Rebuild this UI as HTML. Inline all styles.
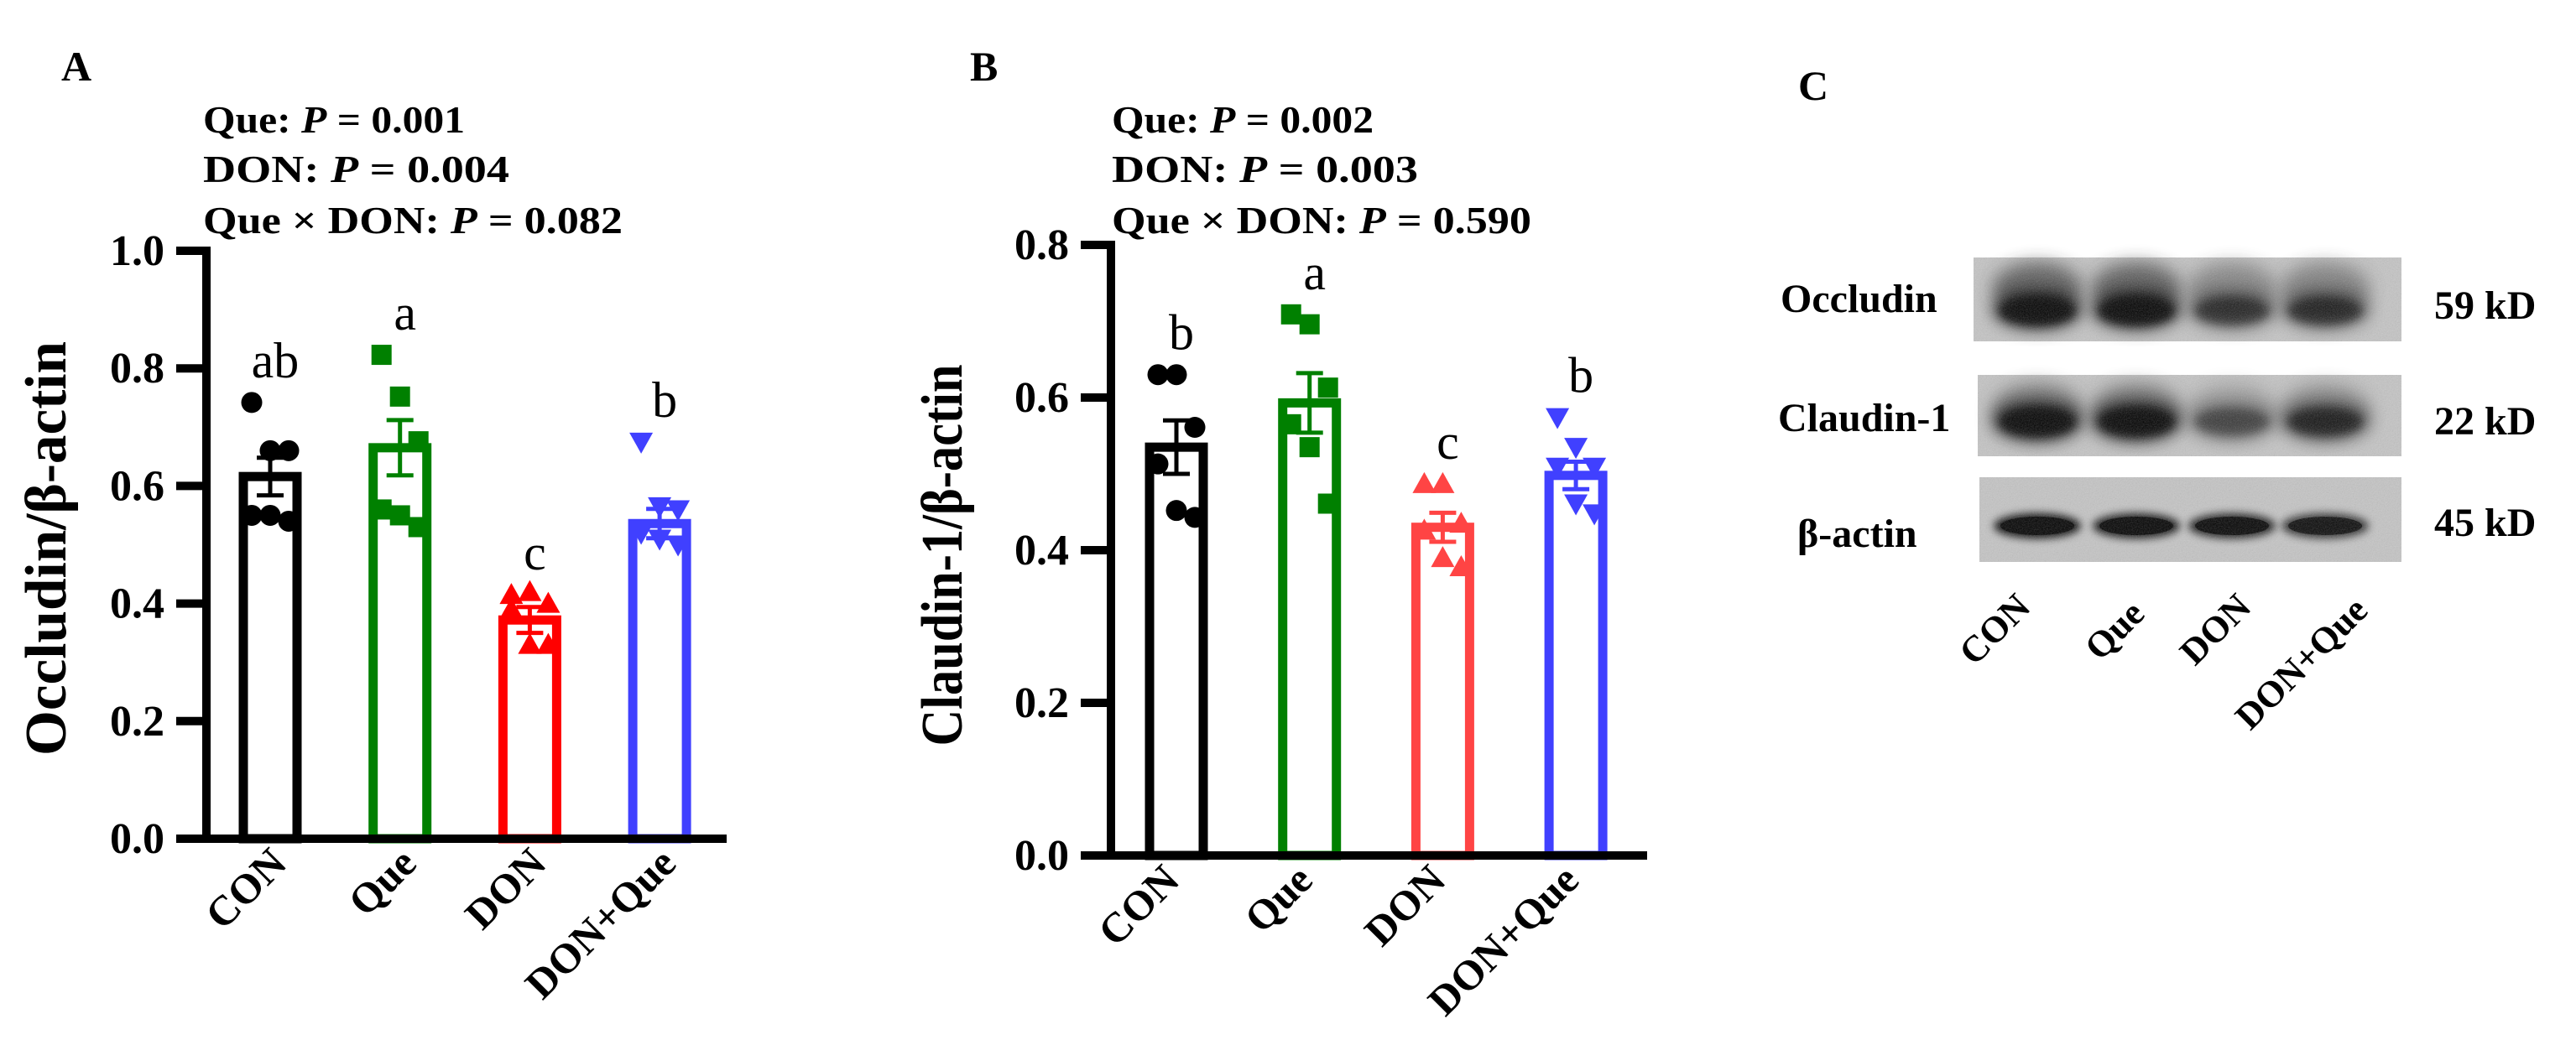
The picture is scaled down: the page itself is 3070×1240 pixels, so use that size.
<!DOCTYPE html>
<html><head><meta charset="utf-8"><style>
html,body{margin:0;padding:0;background:#fff;}
svg{display:block;font-family:"Liberation Serif",serif;}
</style></head><body>
<svg id="fig" width="3070" height="1240" viewBox="0 0 3070 1240" xmlns="http://www.w3.org/2000/svg" font-family="Liberation Serif, serif">
<defs>
<filter id="blur12" x="-50%" y="-50%" width="200%" height="200%"><feGaussianBlur stdDeviation="10"/></filter>
<filter id="blur6" x="-50%" y="-50%" width="200%" height="200%"><feGaussianBlur stdDeviation="5"/></filter>
<filter id="noise"><feTurbulence type="fractalNoise" baseFrequency="0.7" numOctaves="2" result="t"/><feColorMatrix type="saturate" values="0"/><feComponentTransfer><feFuncA type="table" tableValues="0 0.3"/></feComponentTransfer><feComposite in2="SourceGraphic" operator="in"/></filter>
</defs>
<g id="panelA"></g>
<g id="panelB"></g>
<g id="panelC"></g>
</svg>
<script>
const categories = ["CON","Que","DON","DON+Que"];
const occludinMeans = [0.616,0.665,0.372,0.536];
const occludinSem = [0.032,0.047,0.022,0.025];
const occludinPoints = [[0.742,0.66,0.66,0.55,0.55,0.54],[0.823,0.752,0.676,0.56,0.55,0.53],[0.415,0.42,0.40,0.39,0.33,0.33],[0.675,0.565,0.56,0.52,0.51,0.50]];
const occludinLetters = ["ab","a","c","b"];
const occludinTicks = [0,0.2,0.4,0.6,0.8,1.0];
const occludinStats = ["0.001","0.004","0.082"];
const claudinMeans = [0.535,0.593,0.43,0.498];
const claudinSem = [0.035,0.039,0.019,0.018];
const claudinPoints = [[0.63,0.63,0.561,0.513,0.452,0.443],[0.709,0.696,0.613,0.565,0.535,0.461],[0.487,0.487,0.435,0.426,0.39,0.378],[0.574,0.535,0.509,0.509,0.461,0.448]];
const claudinLetters = ["b","a","c","b"];
const claudinTicks = [0,0.2,0.4,0.6,0.8];
const claudinStats = ["0.002","0.003","0.590"];
const blotProteins = ["Occludin","Claudin-1","β-actin"];
const blotSizes = ["59 kD","22 kD","45 kD"];
const blotIntensity = [[1.0,1.0,0.6,0.65],[1.0,1.0,0.45,0.7],[1.0,0.95,0.9,0.8]];

const NS="http://www.w3.org/2000/svg";
function mk(tag,attrs,parent,text){const e=document.createElementNS(NS,tag);for(const k in attrs)e.setAttribute(k,attrs[k]);if(text!==undefined)e.textContent=text;parent.appendChild(e);return e;}
const colorsA=["#000000","#008000","#ff0000","#4040ff"];
const colorsB=["#000000","#008000","#ff4444","#4040ff"];
const jitter=[-22,0,22,-22,0,22];
const statLens=[312,365,500];

function drawChart(g,cfg){
  const y=v=>cfg.y0-(v/cfg.ymax)*(cfg.y0-cfg.ytop);
  const xc=i=>cfg.x0+i*cfg.step;
  let t=mk('text',{x:cfg.letterX,y:96,'font-size':50,'font-weight':'bold'},g,cfg.letter);
  
  
  const statLabels=["Que: ","DON:  ","Que × DON: "];
  const statY=[158,217,278];
  cfg.stats.forEach((s,i)=>{
    const tx=mk('text',{x:cfg.statX,y:statY[i],'font-size':46,'font-weight':'bold',textLength:statLens[i],lengthAdjust:'spacingAndGlyphs'},g);
    
    
    mk('tspan',{},tx,statLabels[i]);
    mk('tspan',{'font-style':'italic'},tx,'P');
    mk('tspan',{},tx,(i===0?' = ':'  = ')+s);
  });
  cfg.means.forEach((m,i)=>{
    const c=cfg.colors[i], cx=xc(i);
    const bar=mk('rect',{x:cx-32,y:y(m),width:64,height:cfg.y0-y(m),fill:'none',stroke:c,'stroke-width':11},g);
    
    
    cfg.points[i].forEach((p,j)=>{
      const px=cx+jitter[j], py=y(p);
      let mkr;
      if(i===0) mkr=mk('circle',{cx:px,cy:py,r:12.5,fill:c},g);
      else if(i===1) mkr=mk('rect',{x:px-12,y:py-12,width:24,height:24,fill:c},g);
      else if(i===2) mkr=mk('polygon',{points:`${px},${py-14} ${px-14},${py+11} ${px+14},${py+11}`,fill:c},g);
      else mkr=mk('polygon',{points:`${px},${py+14} ${px-14},${py-11} ${px+14},${py-11}`,fill:c},g);
      
      
    });
    const eb=mk('g',{stroke:c,'stroke-width':5},g);
    
    
    const hi=y(m+cfg.sem[i]), lo=y(m-cfg.sem[i]);
    mk('line',{x1:cx,x2:cx,y1:hi,y2:lo},eb);
    mk('line',{x1:cx-16,x2:cx+16,y1:hi,y2:hi},eb);
    mk('line',{x1:cx-16,x2:cx+16,y1:lo,y2:lo},eb);
    const lt=mk('text',{x:cx+6,y:y(cfg.points[i][0])-30,'font-size':60,'text-anchor':'middle'},g,cfg.letters[i]);
    
    
    const xl=mk('text',{x:0,y:0,'font-size':50,'font-weight':'bold','text-anchor':'end',transform:`translate(${cx+cfg.labOff},${cfg.y0+32}) rotate(-45)`},g,categories[i]);
    
    
  });
  const ax=mk('g',{stroke:'#000','stroke-width':10},g);
  
  
  mk('line',{x1:cfg.axX,x2:cfg.axX,y1:cfg.ytop-5,y2:cfg.y0+5},ax);
  mk('line',{x1:cfg.axX-36,x2:cfg.xEnd,y1:cfg.y0,y2:cfg.y0},ax);
  cfg.ticks.forEach(v=>{
    mk('line',{x1:cfg.axX-36,x2:cfg.axX,y1:y(v),y2:y(v)},ax);
    const tl=mk('text',{x:cfg.axX-50,y:y(v)+17,'font-size':52,'font-weight':'bold','text-anchor':'end'},g,v.toFixed(1));
    
    
  });
  const yt=mk('text',{x:0,y:0,'font-size':70,'font-weight':'bold','text-anchor':'middle',textLength:cfg.titleLen,lengthAdjust:'spacingAndGlyphs',transform:`translate(${cfg.titleX},${cfg.titleY}) rotate(-90)`},g,cfg.title);
  
  
}
drawChart(document.getElementById('panelA'),{letter:'A',letterX:73,statX:242,x0:322,step:154.7,y0:1000,ytop:299,ymax:1.0,axX:246,xEnd:866,
  means:occludinMeans,sem:occludinSem,points:occludinPoints,letters:occludinLetters,ticks:occludinTicks,stats:occludinStats,colors:colorsA,
  labOff:22,title:'Occludin/β-actin',titleX:78,titleY:654,titleLen:494});
drawChart(document.getElementById('panelB'),{letter:'B',letterX:1156,statX:1325,x0:1402,step:158.7,y0:1020,ytop:292,ymax:0.8,axX:1324,xEnd:1963,
  means:claudinMeans,sem:claudinSem,points:claudinPoints,letters:claudinLetters,ticks:claudinTicks,stats:claudinStats,colors:colorsB,
  labOff:6,title:'Claudin-1/β-actin',titleX:1146,titleY:662,titleLen:455});

(function(){
  const g=document.getElementById('panelC');
  let t=mk('text',{x:2143,y:119,'font-size':50,'font-weight':'bold'},g,'C');
  
  
  const rows=[{x:2352,y:307,h:100,ly:372,lx:2122,ky:380},{x:2357,y:447,h:97,ly:514,lx:2119,ky:518},{x:2359,y:569,h:101,ly:652,lx:2142,ky:639}];
  const lanes=[2428,2546,2660,2771];
  rows.forEach((r,ri)=>{
    const bg=mk('g',{},g);
    
    
    const w=2862-r.x;
    mk('rect',{x:r.x,y:r.y,width:w,height:r.h,fill:'#c4c4c4'},bg);
    blotIntensity[ri].forEach((v,li)=>{
      const cx=lanes[li];
      if(ri===2){
        mk('ellipse',{cx:cx,cy:r.y+58,rx:52,ry:15,fill:'#000',opacity:v,filter:'url(#blur6)'},bg);
        mk('ellipse',{cx:cx,cy:r.y+58,rx:44,ry:11,fill:'#000',opacity:v},bg);
      } else if(ri===0){
        mk('ellipse',{cx:cx,cy:r.y+38,rx:54,ry:32,fill:'#333',opacity:v*0.7,filter:'url(#blur12)'},bg);
        mk('ellipse',{cx:cx,cy:r.y+62,rx:52,ry:22,fill:'#000',opacity:v,filter:'url(#blur12)'},bg);
        mk('ellipse',{cx:cx,cy:r.y+64,rx:44,ry:16,fill:'#000',opacity:v*0.8,filter:'url(#blur6)'},bg);
      } else {
        mk('ellipse',{cx:cx,cy:r.y+42,rx:54,ry:32,fill:'#444',opacity:v*0.6,filter:'url(#blur12)'},bg);
        mk('ellipse',{cx:cx,cy:r.y+55,rx:52,ry:22,fill:'#000',opacity:v,filter:'url(#blur12)'},bg);
        mk('ellipse',{cx:cx,cy:r.y+56,rx:44,ry:16,fill:'#000',opacity:v*0.8,filter:'url(#blur6)'},bg);
      }
    });
    mk('rect',{x:r.x,y:r.y,width:w,height:r.h,fill:'#fff',filter:'url(#noise)'},bg);
    const lb=mk('text',{x:r.lx,y:r.ly,'font-size':48,'font-weight':'bold'},g,blotProteins[ri]);
    
    
    const kd=mk('text',{x:2901,y:r.ky,'font-size':48,'font-weight':'bold'},g,blotSizes[ri]);
    
    
  });
  const ends=[[2422,696],[2558,704],[2685,696],[2824,700]];
  categories.forEach((c,i)=>{
    const l=mk('text',{x:0,y:0,'font-size':44,'font-weight':'bold','text-anchor':'end',transform:`translate(${ends[i][0]},${ends[i][1]+30}) rotate(-45)`},g,c);
    
    
  });
})();
</script>
</body></html>
